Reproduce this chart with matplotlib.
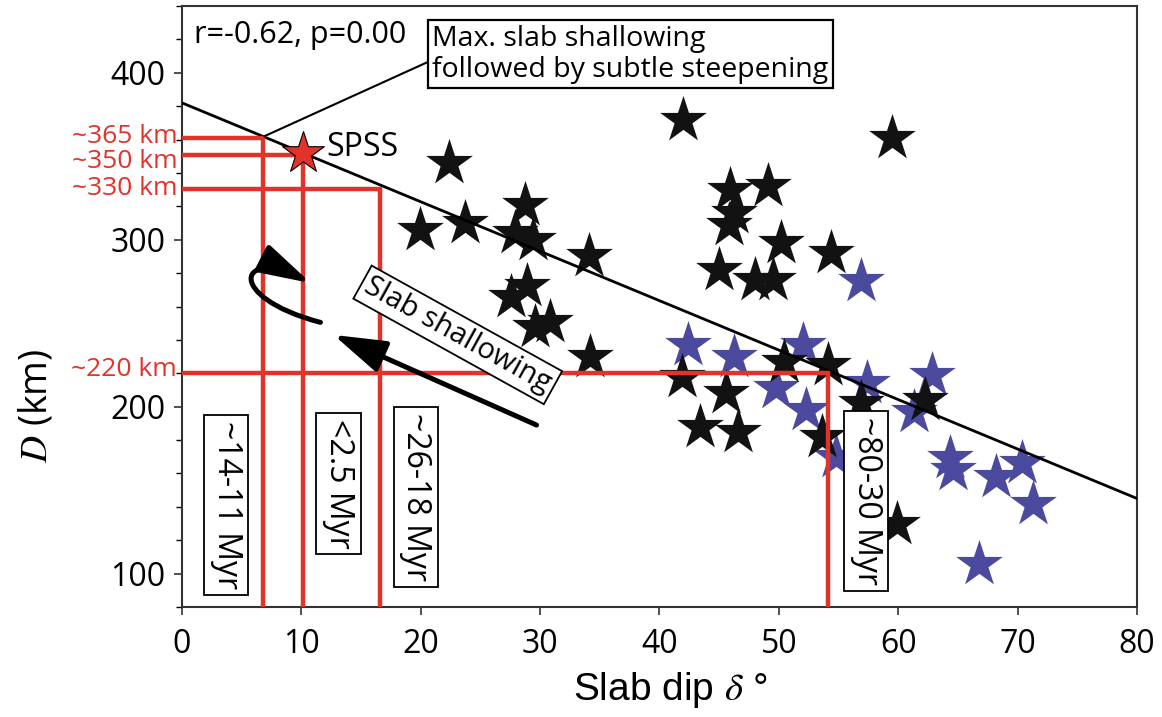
import matplotlib
matplotlib.use("Agg")
import matplotlib.pyplot as plt
from matplotlib.patches import FancyArrowPatch
from matplotlib.path import Path

plt.rcParams["font.family"] = ["Open Sans", "DejaVu Sans"]
plt.rcParams["mathtext.fontset"] = "stix"

# slab dip (deg) and depth D (km)
BLACK_DIP = [42.0, 59.5, 22.4, 19.9, 23.7, 28.7, 27.9, 29.4, 34.1, 27.6, 28.9,
             29.6, 30.8, 34.2, 45.9, 49.1, 46.2, 45.8, 50.2, 54.4, 45.0, 48.0,
             49.5, 41.9, 43.4, 45.6, 46.6, 50.4, 54.1, 53.6, 56.9, 62.2, 59.9]
BLACK_D = [372, 361, 346, 306, 310, 321, 304, 300, 290, 266, 272,
           248, 251, 230, 330, 332, 316, 309, 298, 292, 282, 276,
           276, 218, 188, 208, 185, 227, 225, 182, 202, 204, 130]

BLUE_DIP = [42.4, 46.2, 52.0, 49.8, 52.3, 56.9, 57.4, 54.8, 62.8, 61.3,
            64.3, 64.6, 68.2, 70.4, 71.3, 66.8]
BLUE_D = [237, 230, 237, 211, 198, 275, 214, 170, 219, 197,
          169, 162, 158, 166, 142, 106]

SPSS_DIP, SPSS_D = 10.1, 352

# regression line end points
FIT_DIP = [0, 80]
FIT_D = [382, 145]

# red guide lines: depth level, dip where it turns down, label
GUIDE_D = [361, 351, 330.5, 220]
GUIDE_DIP = [6.75, 10.1, 16.6, 54.1]
GUIDE_LABELS = ["~365 km", "~350 km", "~330 km", "~220 km"]
GUIDE_LABEL_D = [362, 347, 330.5, 222.5]

# age boxes
AGE_LABELS = ["~14-11 Myr", "<2.5 Myr", "~26-18 Myr", "~80-30 Myr"]
AGE_DIP = [3.7, 13.1, 19.6, 57.3]
AGE_D = [141, 154, 146, 143.5]

RED = "#e2332b"
BLUE = "#4b4a9e"

fig = plt.figure(figsize=(11.62, 7.17), dpi=100)
ax = fig.add_axes([0.1566, 0.1534, 0.8219, 0.8382])

ax.scatter(BLUE_DIP, BLUE_D, marker="*", s=1250, color=BLUE, linewidths=0, zorder=3)
ax.scatter(BLACK_DIP, BLACK_D, marker="*", s=1250, color="#121212", linewidths=0, zorder=3)

ax.plot(FIT_DIP, FIT_D, color="black", lw=2, zorder=4)

for d, x in zip(GUIDE_D, GUIDE_DIP):
    ax.plot([0, x, x], [d, d, 80], color=RED, lw=3.2, zorder=5, solid_joinstyle="miter")
for lab, d in zip(GUIDE_LABELS, GUIDE_LABEL_D):
    ax.text(-0.4, d, lab, color=RED, fontsize=19, ha="right", va="center", clip_on=False)

ax.scatter([SPSS_DIP], [SPSS_D], marker="*", s=1000, color=RED, edgecolors="black",
           linewidths=0.8, zorder=6)
ax.text(SPSS_DIP + 2.0, SPSS_D + 3, "SPSS", fontsize=23, ha="left", va="center", zorder=6)

box = dict(boxstyle="square,pad=0.18", fc="white", ec="black", lw=1.3)
for lab, x, d in zip(AGE_LABELS, AGE_DIP, AGE_D):
    ax.text(x, d, lab, rotation=-90, fontsize=23, ha="center", va="center",
            bbox=box, zorder=7)

ax.text(0.013, 0.952, "r=-0.62, p=0.00", transform=ax.transAxes, fontsize=22,
        ha="left", va="center")

ax.annotate("Max. slab shallowing\nfollowed by subtle steepening",
            xy=(6.9, 362), xytext=(0.262, 0.92), textcoords="axes fraction",
            fontsize=20.5, ha="left", va="center", linespacing=1.15,
            bbox=dict(boxstyle="square,pad=0.15", fc="white", ec="black", lw=1.6),
            arrowprops=dict(arrowstyle="-", color="black", lw=1.5,
                            relpos=(0, 0.4), shrinkA=0, shrinkB=0),
            zorder=8)

ax.text(23.1, 243, "Slab shallowing", rotation=-29, fontsize=21, ha="center",
        va="center", rotation_mode="anchor",
        bbox=dict(boxstyle="square,pad=0.15", fc="white", ec="black", lw=1.3), zorder=8)

# straight arrow
ax.add_patch(FancyArrowPatch((29.7, 189), (12.7, 243),
                             arrowstyle="-|>,head_length=1.6,head_width=0.5",
                             mutation_scale=20, lw=3.6, color="black",
                             shrinkA=0, shrinkB=0, zorder=8))
# hooked arrow
hook = Path([(11.6, 250.5), (3.4, 266), (4.8, 296), (10.8, 274)],
            [Path.MOVETO, Path.CURVE4, Path.CURVE4, Path.CURVE4])
ax.add_patch(FancyArrowPatch(path=hook,
                             arrowstyle="-|>,head_length=1.6,head_width=0.45",
                             mutation_scale=20, lw=3.6, color="black", zorder=8))

ax.set_xlim(0, 80)
ax.set_ylim(80, 440)
ax.set_xticks(range(0, 81, 10))
ax.set_yticks([100, 200, 300, 400])
ax.set_yticks(range(80, 441, 20), minor=True)
ax.tick_params(axis="both", which="major", direction="out", length=6, width=1.2,
               labelsize=23, color="#333333")
ax.tick_params(axis="x", pad=9)
ax.tick_params(axis="y", pad=6)
ax.tick_params(axis="y", which="minor", direction="out", length=4, width=1)
for sp in ax.spines.values():
    sp.set_linewidth(1.5)
    sp.set_color("#333333")

ax.text(0.512, -0.138, r"Slab dip $\delta$ °", transform=ax.transAxes, fontsize=28,
        family=["Liberation Sans"], ha="center", va="center")
ax.text(-0.152, 0.335, r"$D$ (km)", transform=ax.transAxes, fontsize=27,
        rotation=90, ha="center", va="center")

fig.savefig("out.png", dpi=100)
